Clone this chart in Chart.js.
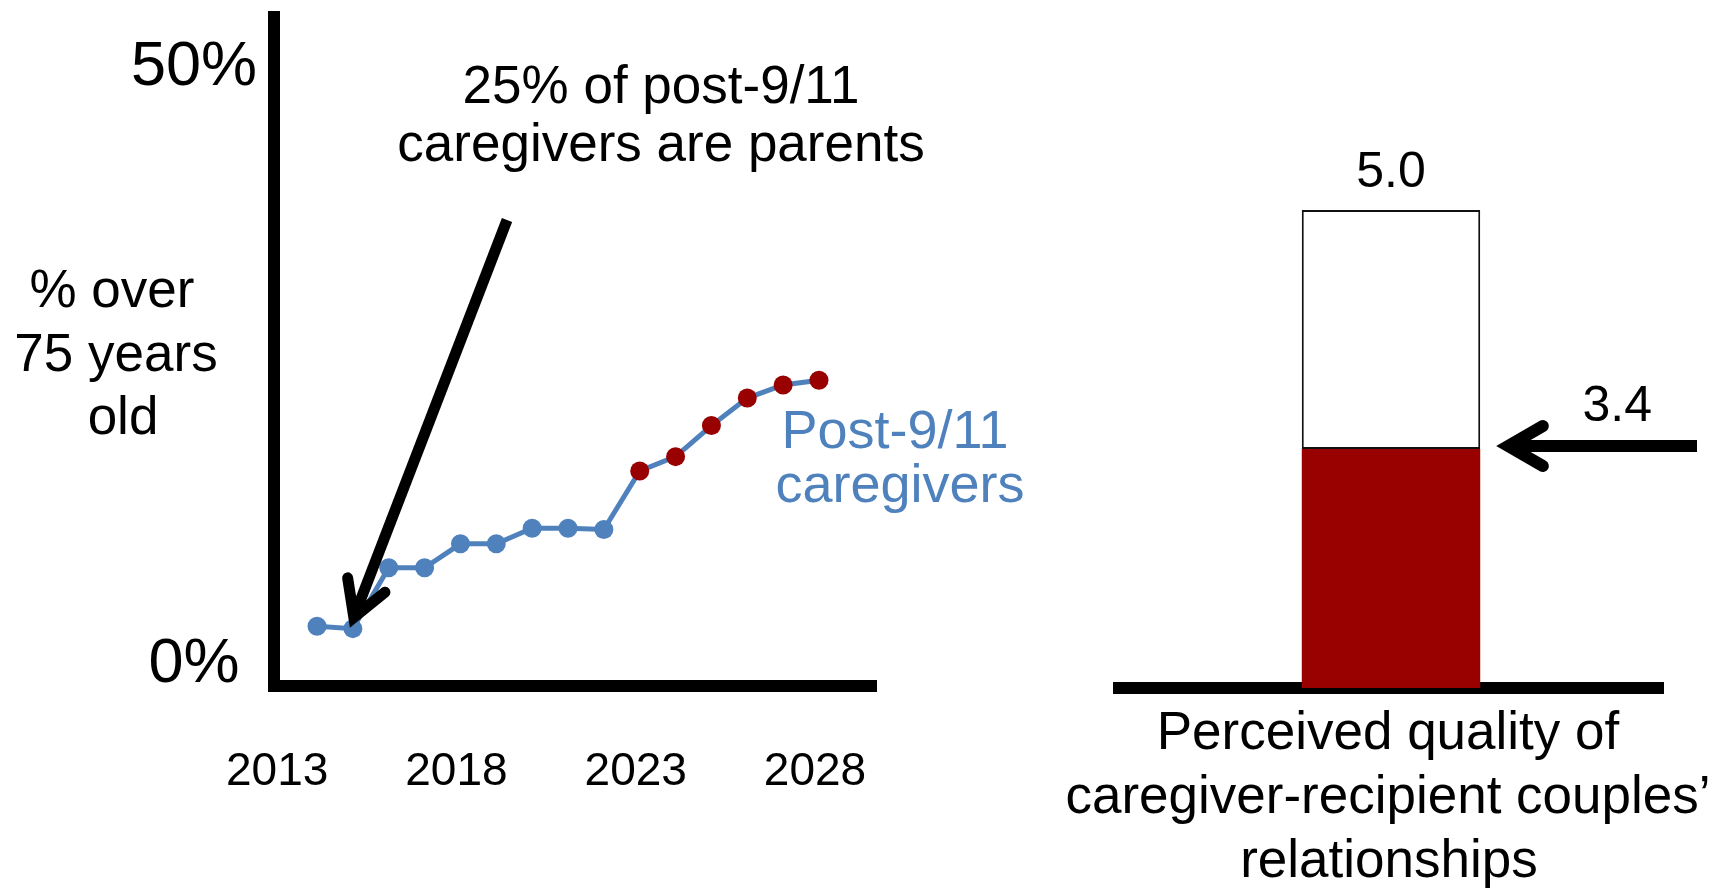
<!DOCTYPE html>
<html>
<head>
<meta charset="utf-8">
<title>Post-9/11 caregivers</title>
<script src="https://cdn.jsdelivr.net/npm/chart.js@4.4.1/dist/chart.umd.min.js"></script>
<style>
  html, body { margin: 0; padding: 0; background: #fff; overflow: hidden; }
  #left { position: absolute; left: 0; top: 0; }
  #right { position: absolute; left: 1000px; top: 0; }
</style>
</head>
<body>
<canvas id="left" width="1100" height="891"></canvas>
<canvas id="right" width="723" height="900"></canvas>
<script>
// % of post-9/11 caregivers over 75 years old
var years = [2014, 2015, 2016, 2017, 2018, 2019, 2020, 2021, 2022, 2023, 2024, 2025, 2026, 2027, 2028];
var overSeventyFive = [5.0, 4.8, 9.9, 9.9, 11.9, 11.9, 13.2, 13.2, 13.1, 18.0, 19.2, 21.8, 24.1, 25.2, 25.6];
var projectedFrom = 2023;
var yearTicks = [2013, 2018, 2023, 2028];
var percentTicks = [0, 50];

// perceived quality of caregiver-recipient couples' relationships
var qualityCategories = ['Couples'];
var qualityScore = [3.4];
var qualityMax = [5.0];

var BLUE = '#4F81BD';
var RED = '#990000';
var FONT = "'Liberation Sans', Arial, sans-serif";

Chart.defaults.font.family = FONT;
Chart.defaults.color = '#000';

function drawArrow(ctx, tailX, tailY, tipX, tipY, width, headLen, headAngle) {
	var dx = tipX - tailX, dy = tipY - tailY;
	var len = Math.sqrt(dx * dx + dy * dy);
	var ux = dx / len, uy = dy / len;
	var back = (width / 2) / Math.sin(headAngle);
	var vx = tipX - ux * back, vy = tipY - uy * back;
	var ang = Math.atan2(uy, ux);

	ctx.save();
	ctx.strokeStyle = '#000';
	ctx.lineWidth = width;
	ctx.lineCap = 'butt';
	ctx.beginPath();
	ctx.moveTo(tailX, tailY);
	ctx.lineTo(vx, vy);
	ctx.stroke();

	ctx.lineCap = 'round';
	ctx.lineJoin = 'miter';
	ctx.beginPath();
	ctx.moveTo(vx - headLen * Math.cos(ang - headAngle), vy - headLen * Math.sin(ang - headAngle));
	ctx.lineTo(vx, vy);
	ctx.lineTo(vx - headLen * Math.cos(ang + headAngle), vy - headLen * Math.sin(ang + headAngle));
	ctx.stroke();
	ctx.restore();
}

function text(ctx, str, x, y, size, color, baseline) {
	ctx.save();
	ctx.font = size + 'px ' + FONT;
	ctx.fillStyle = color || '#000';
	ctx.textAlign = 'center';
	ctx.textBaseline = baseline || 'middle';
	ctx.fillText(str, x, y);
	ctx.restore();
}

// tick labels hang past the plot edges; don't let them shrink the plot
function noLabelPadding(axis) {
	axis.paddingTop = 0;
	axis.paddingBottom = 0;
	axis.paddingLeft = 0;
	axis.paddingRight = 0;
}

var leftNotes = {
	id: 'leftNotes',
	afterDatasetsDraw: function (chart) {
		var ctx = chart.ctx;
		var pt = chart.getDatasetMeta(0).data[1];

		drawArrow(ctx, 507, 220, pt.x - 3, pt.y - 1, 11, 40, Math.PI / 6);

		text(ctx, '25% of post-9/11', 661, 88, 53);
		text(ctx, 'caregivers are parents', 661, 146, 53);

		text(ctx, '% over', 112, 292, 53);
		text(ctx, '75 years', 116, 356, 53);
		text(ctx, 'old', 123, 419, 53);

		text(ctx, 'Post-9/11', 895, 448, 54, BLUE, 'alphabetic');
		text(ctx, 'caregivers', 900, 502, 54, BLUE, 'alphabetic');
	}
};

var rightNotes = {
	id: 'rightNotes',
	afterDatasetsDraw: function (chart) {
		var ctx = chart.ctx;
		var red = chart.getDatasetMeta(0).data[0];
		var white = chart.getDatasetMeta(1).data[0];

		text(ctx, qualityMax[0].toFixed(1), white.x, white.y - 37, 50);

		var tipX = red.x + red.width / 2 + 16;
		drawArrow(ctx, 697, red.y - 3, tipX, red.y - 3, 12, 40, Math.PI / 6);
		text(ctx, qualityScore[0].toFixed(1), tipX + 121, red.y - 42, 50);

		text(ctx, 'Perceived quality of', 388, 734, 53);
		text(ctx, 'caregiver-recipient couples\u2019', 388, 798, 53);
		text(ctx, 'relationships', 389, 862, 53);
	}
};

new Chart(document.getElementById('left'), {
	type: 'line',
	data: {
		datasets: [{
			label: 'Post-9/11 caregivers',
			data: years.map(function (y, i) { return { x: y, y: overSeventyFive[i] }; }),
			borderColor: BLUE,
			borderWidth: 5,
			tension: 0,
			pointRadius: 9.5,
			pointHoverRadius: 9.5,
			pointBorderWidth: 0,
			pointBackgroundColor: function (c) {
				return years[c.dataIndex] >= projectedFrom ? RED : BLUE;
			}
		}]
	},
	options: {
		responsive: false,
		animation: false,
		layout: { padding: { top: 17, right: 224, left: 0, bottom: 0 } },
		plugins: { legend: { display: false }, tooltip: { enabled: false } },
		scales: {
			x: {
				type: 'linear',
				min: 2012.8,
				max: 2029.59,
				afterBuildTicks: function (axis) {
					axis.ticks = yearTicks.map(function (v) { return { value: v }; });
				},
				afterFit: function (axis) {
					axis.height = 205;
					noLabelPadding(axis);
				},
				grid: { display: false, drawTicks: false },
				border: { display: true, color: '#000', width: 12 },
				ticks: {
					padding: 59,
					labelOffset: -4,
					maxRotation: 0,
					font: { size: 46 },
					callback: function (v) { return String(v); }
				}
			},
			y: {
				min: 0,
				max: 56,
				afterBuildTicks: function (axis) {
					axis.ticks = percentTicks.map(function (v) { return { value: v }; });
				},
				afterFit: function (axis) {
					axis.width = 274;
					noLabelPadding(axis);
				},
				grid: { display: false, drawTicks: false },
				border: { display: true, color: '#000', width: 12 },
				ticks: {
					padding: 17,
					crossAlign: 'center',
					labelOffset: -21,
					font: { size: 63 },
					callback: function (v) { return v + '%'; }
				}
			}
		}
	},
	plugins: [leftNotes]
});

new Chart(document.getElementById('right'), {
	type: 'bar',
	data: {
		labels: qualityCategories,
		datasets: [{
			label: 'Perceived quality',
			data: qualityScore,
			backgroundColor: RED,
			borderWidth: 0,
			grouped: false,
			barPercentage: 0.328,
			categoryPercentage: 1,
			clip: { left: false, right: false, top: false, bottom: 0 }
		}, {
			label: 'Scale maximum',
			data: qualityScore.map(function (v, i) { return [v, qualityMax[i]]; }),
			backgroundColor: '#fff',
			borderColor: '#111',
			borderWidth: 2,
			borderSkipped: false,
			grouped: false,
			barPercentage: 0.328,
			categoryPercentage: 1
		}]
	},
	options: {
		responsive: false,
		animation: false,
		layout: { padding: { top: 210, right: 60, left: 119, bottom: 0 } },
		plugins: { legend: { display: false }, tooltip: { enabled: false } },
		scales: {
			x: {
				afterFit: function (axis) {
					axis.height = 212;
					noLabelPadding(axis);
				},
				grid: { display: false, drawTicks: false },
				border: { display: true, color: '#000', width: 12 },
				ticks: { display: false }
			},
			y: {
				display: false,
				min: 1.8,
				max: 5.0
			}
		}
	},
	plugins: [rightNotes]
});
</script>
</body>
</html>
